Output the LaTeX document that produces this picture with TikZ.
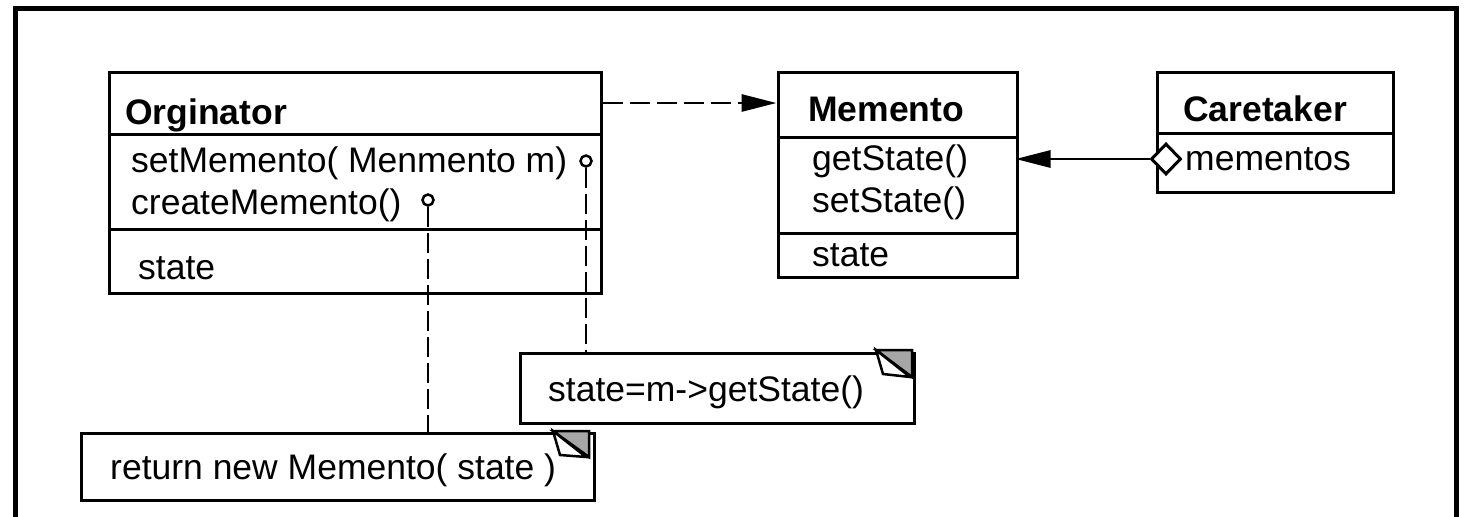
\documentclass[tikz,border=0pt]{standalone}
\usepackage{fontspec}
\setmainfont{Liberation Sans}
\usetikzlibrary{arrows.meta,shapes.geometric,fit}
\begin{document}
\begin{tikzpicture}[x=1pt,y=-1pt,
  cls/.style={draw, line width=3pt, inner sep=0pt},
  divider/.style={line width=3pt},
  txt/.style={inner sep=0pt, anchor=base west, font=\fontsize{35.5pt}{42pt}\selectfont},
  notebox/.style={draw, line width=3pt, inner sep=0pt},
  foldgray/.style={draw, line width=2.5pt, fill=black!35, line join=miter},
  foldwhite/.style={draw, line width=2.5pt, fill=white},
  pin/.style={circle, draw, line width=2.5pt, minimum size=11pt, inner sep=0pt, fill=white},
  notelink/.style={line width=2.8pt, dash pattern=on 20pt off 6pt},
  dep/.style={line width=2.8pt, dash pattern=on 20pt off 7pt, -{Triangle[length=35pt,width=17pt]}},
  assoc/.style={line width=2.8pt, -{Triangle[length=35pt,width=17pt]}},
  agg/.style={diamond, draw, fill=white, line width=3pt, minimum width=30pt, minimum height=31pt, inner sep=0pt}
]
\useasboundingbox (0,0) rectangle (1468,517);
% frame
\draw[line width=5pt, line join=miter] (15.8,517) -- (15.8,8.3) -- (1456.5,8.3) -- (1456.5,517);

% Originator
\node[cls, fit={(109,72) (601,293)}] (orig) {};
\draw[divider] (orig.west |- 0,134) -- (orig.east |- 0,134);
\draw[divider] (orig.west |- 0,229) -- (orig.east |- 0,229);
\node[txt] (otitle) at (125,124) {\bfseries Orginator};
\node[txt] (oset) at (131,172) {setMemento( Menmento m)};
\node[txt] (ocreate) at (131,214) {createMemento()};
\node[txt] (ostate) at (138,279) {state};

% Memento
\node[cls, fit={(778,72) (1017,277)}] (mem) {};
\draw[divider] (mem.west |- 0,137) -- (mem.east |- 0,137);
\draw[divider] (mem.west |- 0,233) -- (mem.east |- 0,233);
\node[txt] (mtitle) at (808,121) {\bfseries Memento};
\node[txt] (mget) at (812,170) {getState()};
\node[txt] (mset) at (812,212) {setState()};
\node[txt] (mstate) at (812,266) {state};

% Caretaker
\node[cls, fit={(1157,72) (1393,192)}] (care) {};
\draw[divider] (care.west |- 0,133) -- (care.east |- 0,133);
\node[txt] (ctitle) at (1183,121) {\bfseries Caretaker};
\node[txt] (cmem) at (1185,170) {mementos};

% notes
\node[notebox, fit={(520,353) (914,423)}] (n1) {};
\node[txt] (n1t) at (548,401) {state=m->getState()};
\draw[foldgray] (876,350) -- (912,350) -- (912,377) -- cycle;
\draw[foldwhite] (876,350) -- (883,374) -- (910,377) -- cycle;

\node[notebox, fit={(81,433) (594,500)}] (n2) {};
\node[txt] (n2t) at (110,479) {return new Memento( state )};
\draw[foldgray] (553,431) -- (589,431) -- (589,457) -- cycle;
\draw[foldwhite] (553,431) -- (560,455) -- (586,457) -- cycle;

% pins and note links
\node[pin] (p1) at (586,161) {};
\node[pin] (p2) at (428,200) {};
\draw[notelink] (p1.south) -- (p1.south |- n1.north);
\draw[notelink] (p2.south) -- (p2.south |- n2.north);

% dependency Originator -> Memento
\draw[dep] (orig.north east |- 0,103) -- (mem.north west |- 0,103);

% aggregation Caretaker -> Memento
\node[agg] (dia) at (1166,159) {};
\draw[assoc, shorten >=-3pt] (dia.west) -- (mem.east |- dia.west);
\end{tikzpicture}
\end{document}
